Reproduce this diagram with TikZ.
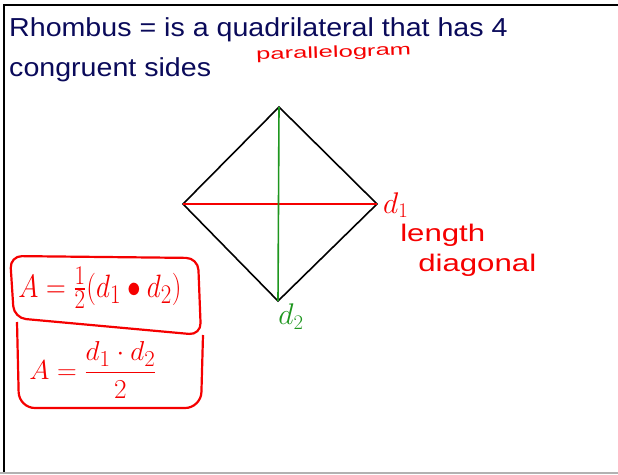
\documentclass[tikz,border=0pt]{standalone}
\usepackage{amsmath, amssymb}
\usepackage{xcolor}
\usepackage{fontspec}
\setmainfont{Liberation Sans}
\usepackage{tikz}
\definecolor{navy}{RGB}{10,10,90}
\definecolor{pen}{RGB}{245,0,0}
\definecolor{greenpen}{RGB}{30,150,30}

\begin{document}
\begin{tikzpicture}[x=1pt,y=-1pt,
  title/.style={anchor=base west, text=navy, xscale=1.1, font=\fontsize{26}{30}\selectfont, inner sep=0pt},
  note/.style={text=pen, inner sep=0pt},
  box/.style={draw=pen, line width=2.2pt, rounded corners=12pt},
  side/.style={line width=1.6pt}]
\useasboundingbox (0,0) rectangle (618,474);

% Cornice
\draw[line width=1.5pt] (4,474) -- (4,5) -- (618,5);
\fill[gray!60] (0,472) rectangle (618,474);

% Titolo
\node[title] (riga1) at (9,36) {Rhombus = is a quadrilateral that has 4};
\node[title] (riga2) at (9,76) {congruent sides};
\node[note, anchor=base west, rotate=2, xscale=1.6, font=\fontsize{16}{20}\selectfont] (para) at (256,60) {parallelogram};

% Rombo
\coordinate (top) at (279,107);
\coordinate (left) at (183,204);
\coordinate (right) at (377,204);
\coordinate (bot) at (278,301);
\draw[side] (top) -- (right) -- (bot) -- (left) -- cycle;
\draw[pen, line width=1.6pt] (left) -- (right);
\draw[greenpen, line width=1.6pt] (top) -- (bot);

% Etichette
\node[note, anchor=west, scale=1.2, font=\fontsize{26}{30}\selectfont] (d1) at (383,205) {$d_1$};
\node[note, anchor=north west, xscale=1.3, font=\fontsize{24}{26}\selectfont] (len) at (400,224) {length};
\node[note, anchor=north west, xscale=1.3, font=\fontsize{24}{26}\selectfont] (diag) at (418,254) {diagonal};
\node[text=greenpen, inner sep=0pt, anchor=north, scale=1.2, font=\fontsize{26}{30}\selectfont] (d2) at (291,304) {$d_2$};

% Formule
\draw[box] (14,318) -- (10,256) -- (198,258) -- (201,335) -- cycle;
\draw[box, rounded corners=16pt] (17,322) -- (19,408) -- (201,408) -- (203,335);
\node[note, xscale=1.1, yscale=1.3, font=\fontsize{30}{34}\selectfont] (area1) at (100,288) {$A=\tfrac{1}{2}(d_1\bullet d_2)$};
\node[note, scale=1.1, font=\fontsize{28}{32}\selectfont] (area2) at (93,370) {$A=\dfrac{d_1\cdot d_2}{2}$};
\end{tikzpicture}
\end{document}
